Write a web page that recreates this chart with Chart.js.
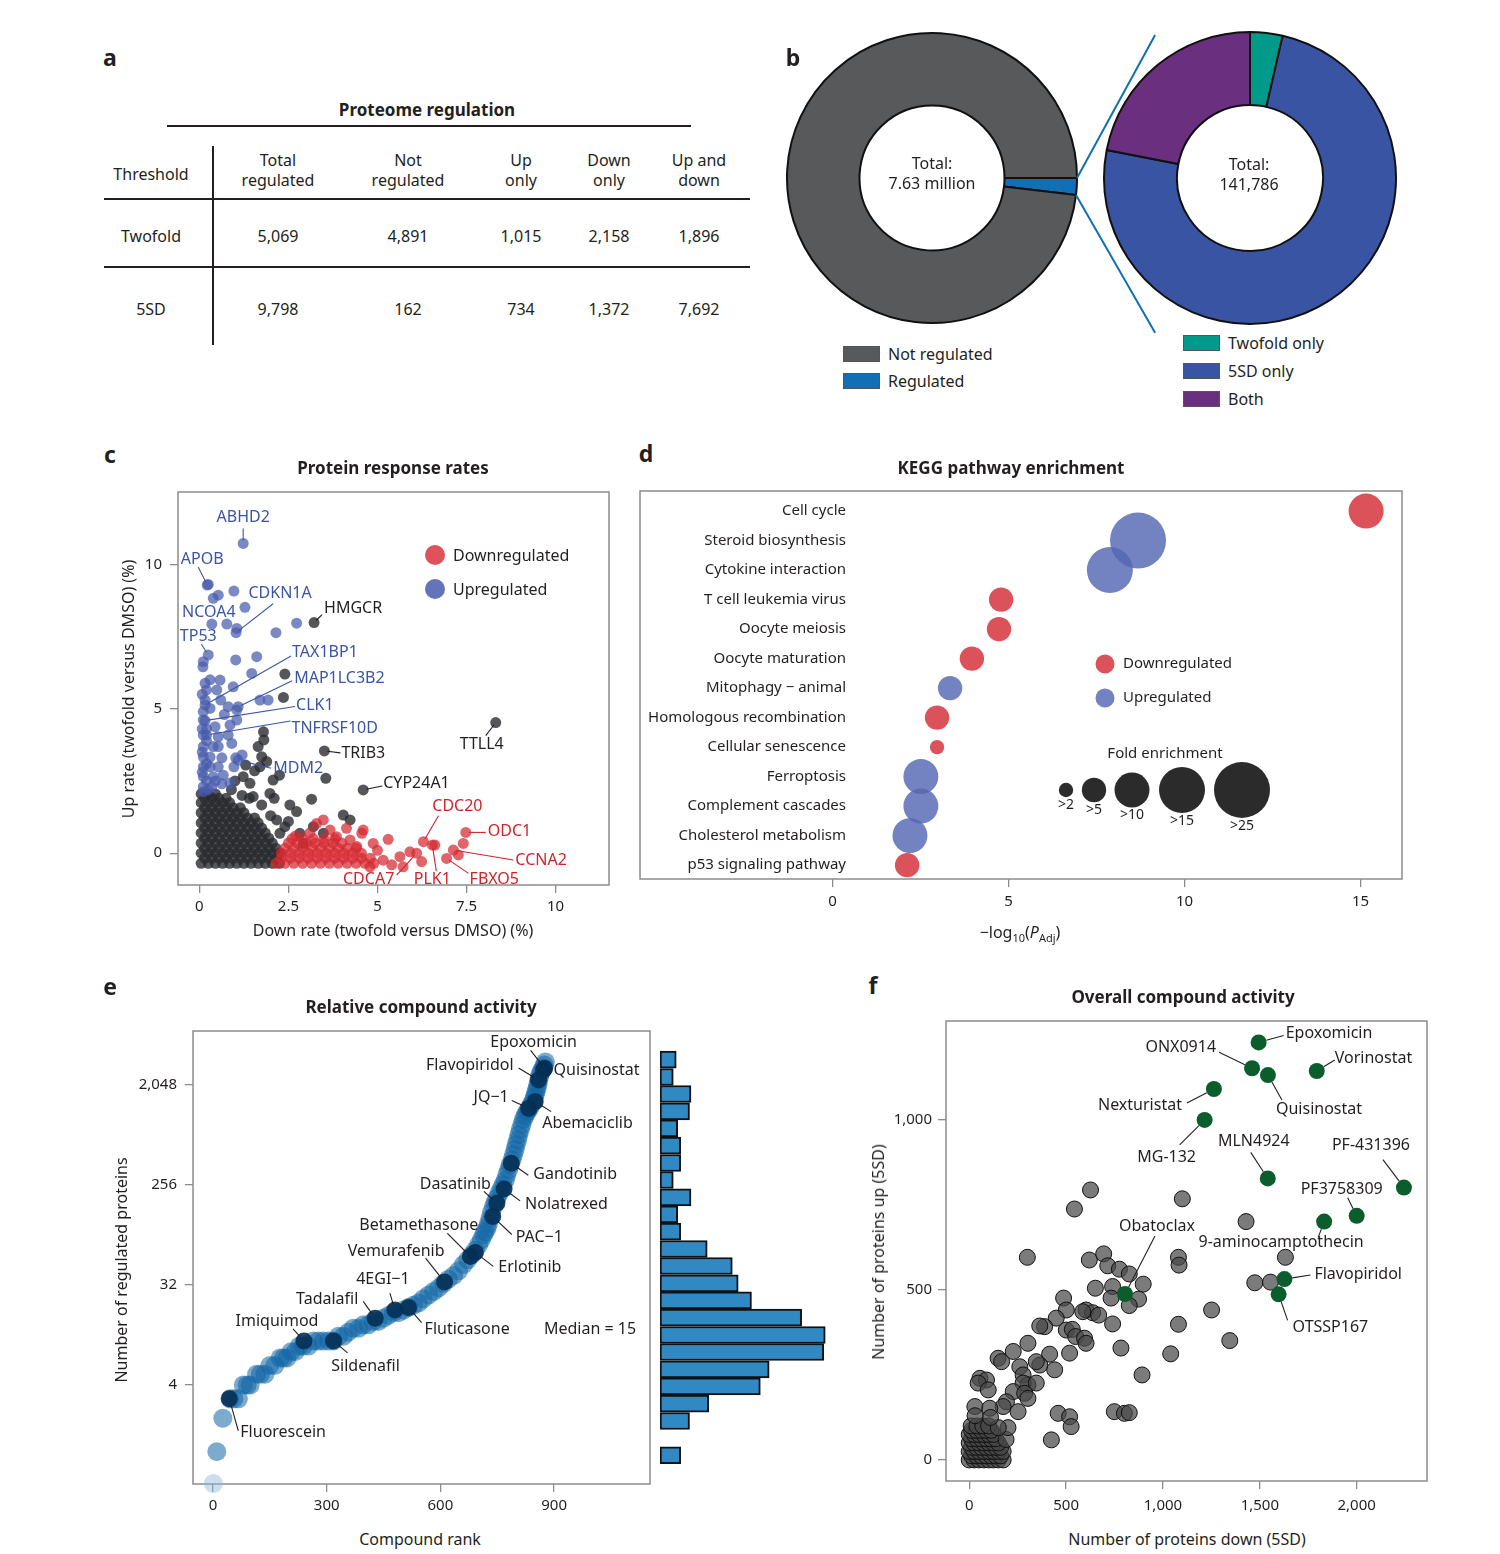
<!DOCTYPE html>
<html>
<head>
<meta charset="utf-8">
<title>Proteome regulation figure</title>
<script src="https://cdn.jsdelivr.net/npm/chart.js@4.4.1/dist/chart.umd.min.js"></script>
<style>
  html, body { margin: 0; padding: 0; background: #fff; }
  body { position: relative; width: 1500px; height: 1554px; overflow: hidden;
         font-family: "Noto Sans", "DejaVu Sans", sans-serif; color: #231f20; }
  canvas { position: absolute; }
  .t { position: absolute; white-space: nowrap; font-size: 16px; line-height: 20px; }
  .letter { font-size: 23px; font-weight: 700; }
  .title { font-size: 17px; font-weight: 700; }
  .rule { position: absolute; background: #231f20; }
  .swatch { position: absolute; width: 35px; height: 14px; border: 1px solid #555; }
  .dot { position: absolute; border-radius: 50%; }
</style>
</head>
<body>
<canvas id="donutAll" width="294" height="294" style="left:785px;top:31px"></canvas>
<canvas id="donutReg" width="296" height="296" style="left:1102px;top:30px"></canvas>
<canvas id="links" width="120" height="330" style="left:1060px;top:20px"></canvas>
<canvas id="chartC" width="520" height="448" style="left:100px;top:474px"></canvas>
<canvas id="chartD" width="782" height="440" style="left:630px;top:481px"></canvas>
<canvas id="chartE" width="550" height="508" style="left:110px;top:1013px"></canvas>
<canvas id="chartHist" width="185" height="500" style="left:655px;top:1021px"></canvas>
<canvas id="chartF" width="577" height="518" style="left:860px;top:1003px"></canvas>

<script>
// ---------------- data ----------------

// a: proteome regulation table
const tableHead = ['Total<br>regulated', 'Not<br>regulated', 'Up<br>only', 'Down<br>only', 'Up and<br>down'];
const tableRows = ['Twofold', '5SD'];
const tableValues = [
    [5069, 4891, 1015, 2158, 1896],
    [9798, 162, 734, 1372, 7692]
];

// b: all measurements / regulated measurements
const allLabels = ['Regulated', 'Not regulated'];
const allValues = [141786, 7488214];
const regLabels = ['Twofold only', '5SD only', 'Both'];
const regValues = [5100, 105600, 31086];

// c: protein response rates (%), [down rate, up rate]
const cUpPts = [
    [0.25,9.3],[0.39,8.82],[0.53,8.93],[0.97,9.07],[1.28,8.51],[0.77,7.93],[1.05,7.78],[2.15,7.63],[2.73,7.96],
    [0.11,6.63],[0.1,6.45],[1.02,6.69],[1.61,6.8],[0.16,5.88],[1.47,6.22],[0.2,5.65],[0.58,5.99],[0.49,5.65],
    [0.95,5.76],[0.11,4.9],[0.3,5.01],[0.81,5.07],[1.05,4.96],[1.7,5.3],[1.93,5.3],[0.11,4.61],[1.05,4.61],
    [0.44,4.38],[0.86,4.44],[0.11,4.09],[0.53,4.03],[0.81,4.09],[0.11,3.69],[0.39,3.69],[0.53,3.69],
    [0.91,3.8],[0.11,3.33],[0.3,3.33],[0.63,3.3],[1.02,3.3],[1.2,3.4],[0.11,2.99],[0.3,2.99],[0.53,2.99],
    [0.97,2.99],[0.11,2.65],[0.39,2.65],[0.67,2.7],[0.86,2.43],[0.11,2.3],[0.35,2.3],[0.63,2.4],[0.11,2.13],
    [0.2,2.5],[0.2,3.1],[0.2,3.9],[0.2,4.3],[0.16,5.3],[0.3,6.0],[0.7,4.8],[0.6,5.3],
    [0.08,2.8],[0.08,3.5],[0.08,4.3],[0.08,5.5],[0.25,2.2],[0.45,2.5]
];
const cDownPts = [
    [2.15,-0.35],[2.4,-0.35],[2.65,-0.35],[2.9,-0.35],[3.15,-0.35],[3.4,-0.35],[3.65,-0.35],[3.9,-0.35],
    [4.15,-0.35],[4.4,-0.35],[4.65,-0.35],[4.9,-0.35],
    [2.3,-0.17],[2.55,-0.17],[2.8,-0.17],[3.05,-0.17],[3.3,-0.17],[3.55,-0.17],[3.8,-0.17],[4.05,-0.17],
    [4.3,-0.17],[4.55,-0.17],[4.8,-0.17],
    [2.3,0],[2.55,0],[2.8,0],[3.05,0],[3.3,0],[3.55,0],[3.8,0],[4.05,0],[4.3,0],[4.55,0],
    [2.4,0.17],[2.65,0.17],[2.9,0.17],[3.15,0.17],[3.4,0.17],[3.65,0.17],[3.9,0.17],[4.15,0.17],[4.4,0.17],
    [2.5,0.35],[2.75,0.35],[3.0,0.35],[3.25,0.35],[3.5,0.35],[3.75,0.35],[4.0,0.35],
    [2.6,0.5],[2.9,0.5],[3.2,0.5],[3.5,0.5],[3.8,0.5],
    [3.67,0.8],[3.85,0.57],[4.13,0.86],[4.23,0.46],[4.56,0.69],[4.42,0.23],[4.88,0.34],[5.3,0.48],
    [5.16,-0.24],[5.63,-0.12],[5.91,0.05],[6.24,-0.29],[6.61,0.28],[7.27,-0.06],[7.41,0.34],[5.72,-0.47],
    [4.79,-0.47],[4.6,0.8],[3.29,1.03],[3.48,1.15],[5.0,0.1],[3.1,0.7],[2.7,0.6],[5.4,-0.4]
];
const cNonePts = [
    [0.05,-0.35],[0.25,-0.35],[0.45,-0.35],[0.65,-0.35],[0.85,-0.35],[1.05,-0.35],[1.25,-0.35],[1.45,-0.35],
    [1.65,-0.35],[1.85,-0.35],[2.05,-0.35],[2.25,-0.35],
    [0.15,-0.17],[0.35,-0.17],[0.55,-0.17],[0.75,-0.17],[0.95,-0.17],[1.15,-0.17],[1.35,-0.17],[1.55,-0.17],
    [1.75,-0.17],[1.95,-0.17],[2.15,-0.17],
    [0.05,0],[0.25,0],[0.45,0],[0.65,0],[0.85,0],[1.05,0],[1.25,0],[1.45,0],[1.65,0],[1.85,0],[2.05,0],[2.25,0],
    [0.15,0.17],[0.35,0.17],[0.55,0.17],[0.75,0.17],[0.95,0.17],[1.15,0.17],[1.35,0.17],[1.55,0.17],
    [1.75,0.17],[1.95,0.17],[2.15,0.17],
    [0.05,0.35],[0.25,0.35],[0.45,0.35],[0.65,0.35],[0.85,0.35],[1.05,0.35],[1.25,0.35],[1.45,0.35],
    [1.65,0.35],[1.85,0.35],[2.05,0.35],
    [0.15,0.52],[0.35,0.52],[0.55,0.52],[0.75,0.52],[0.95,0.52],[1.15,0.52],[1.35,0.52],[1.55,0.52],
    [1.75,0.52],[1.95,0.52],
    [0.05,0.7],[0.25,0.7],[0.45,0.7],[0.65,0.7],[0.85,0.7],[1.05,0.7],[1.25,0.7],[1.45,0.7],[1.65,0.7],[1.85,0.7],
    [0.15,0.87],[0.35,0.87],[0.55,0.87],[0.75,0.87],[0.95,0.87],[1.15,0.87],[1.35,0.87],[1.55,0.87],[1.75,0.87],
    [0.05,1.05],[0.25,1.05],[0.45,1.05],[0.65,1.05],[0.85,1.05],[1.05,1.05],[1.25,1.05],[1.45,1.05],[1.65,1.05],
    [0.15,1.22],[0.35,1.22],[0.55,1.22],[0.75,1.22],[0.95,1.22],[1.15,1.22],[1.35,1.22],[1.55,1.22],
    [0.05,1.4],[0.25,1.4],[0.45,1.4],[0.65,1.4],[0.85,1.4],[1.05,1.4],[1.25,1.4],
    [0.15,1.57],[0.35,1.57],[0.55,1.57],[0.75,1.57],[0.95,1.57],[1.15,1.57],
    [0.05,1.75],[0.25,1.75],[0.45,1.75],[0.65,1.75],[0.85,1.75],
    [0.15,1.9],[0.35,1.9],[0.55,1.9],[0.75,1.9],
    [0.05,2.05],[0.25,2.05],[0.45,2.05],
    [2.4,6.2],[2.36,5.39],[1.8,4.2],[1.81,3.92],[1.65,3.69],[1.75,3.34],[1.7,2.99],[1.89,3.17],[3.55,2.59],
    [3.15,1.87],[4.04,1.32],[4.23,1.15],[3.2,0.92],[3.48,0.69],[2.54,1.67],[2.73,1.44],[1.98,2.07],[2.07,2.53],
    [1.42,2.42],[1.23,2.65],[2.17,1.15],[2.4,0.92],[2.26,0.69],[2.82,0.69],[2.92,0.34],[1.51,1.96],[1.75,1.67],
    [1.0,2.5],[1.2,2.0],[0.9,2.2],[1.4,1.9],[2.0,1.3],[2.5,1.1],[2.1,1.9],[1.55,2.85],[1.3,3.05],[2.25,2.7]
];
const cGenes = ['ABHD2','APOB','CDKN1A','NCOA4','TP53','TAX1BP1','MAP1LC3B2','CLK1','TNFRSF10D','MDM2',
                'HMGCR','TRIB3','TTLL4','CYP24A1','CDC20','ODC1','CCNA2','FBXO5','PLK1','CDCA7'];
const cGeneDown = [1.23,0.22,1.03,0.35,0.25,0.16,1.09,0.16,0.2,1.09,3.22,3.51,8.32,4.6,6.29,7.48,7.13,6.94,6.54,6.1];
const cGeneUp = [10.72,9.28,7.63,7.93,6.86,5.13,5.07,4.59,4.09,3.22,7.98,3.54,4.52,2.19,0.4,0.72,0.11,-0.18,0.28,0.0];
const cGeneGroup = ['up','up','up','up','up','up','up','up','up','up',
                    'none','none','none','none','down','down','down','down','down','down'];
const cTicksX = [0, 2.5, 5, 7.5, 10];
const cTicksY = [0, 5, 10];

// d: KEGG pathway enrichment
const dPathways = ['Cell cycle','Steroid biosynthesis','Cytokine interaction','T cell leukemia virus','Oocyte meiosis',
                   'Oocyte maturation','Mitophagy \u2212 animal','Homologous recombination','Cellular senescence',
                   'Ferroptosis','Complement cascades','Cholesterol metabolism','p53 signaling pathway'];
const dLogP = [15.16, 8.68, 7.88, 4.79, 4.73, 3.96, 3.34, 2.97, 2.97, 2.51, 2.51, 2.2, 2.12];
const dFold = [12, 27, 17, 7, 7, 7, 7, 7, 3, 12, 12, 12, 7];
const dDirection = ['down','up','up','down','down','down','up','down','down','up','up','up','down'];
const dFoldLegend = ['>2', '>5', '>10', '>15', '>25'];
const dFoldLegendValue = [3, 7, 12, 17, 27];
const dTicksX = [0, 5, 10, 15];

// e: relative compound activity (rank vs regulated proteins)
const eRank = [1,10,26,45,55,67,80,90,98,115,125,137,150,163,177,186,195,206,217,228,238,252,265,278,291,305,
               318,331,344,357,370,384,397,410,423,436,450,463,476,490,503,516,529,542,555,569,582,595,608,621,
               635,648,661,672,683,692,701,708,714,718,723,727,731,735,740,744,749,754,760,765,771,775,780,784,
               789,793,797,800,804,807,811,815,819,823,827,831,835,839,844,847,850,852,855,857,859,861,863,867,
               871,874,877];
const eCount = [0,1,2,3,3,3,4,4,4,5,5,5,6,6,7,7,7,8,8,9,9,9,10,10,10,10,
                10,11,11,12,13,13,14,14,15,15,16,17,18,18,19,20,21,22,24,26,28,30,33,36,
                39,43,49,54,60,66,74,82,91,97,104,115,128,145,163,178,194,212,235,258,282,316,352,390,
                432,480,535,595,657,730,812,900,1000,1075,1150,1200,1262,1350,1450,1550,1660,1780,1910,2060,2230,2400,2580,2750,
                2900,3100,3300];
const eHiNames = ['Epoxomicin','Quisinostat','Flavopiridol','JQ\u22121','Abemaciclib','Gandotinib','Nolatrexed',
                  'Dasatinib','PAC\u22121','Erlotinib','Betamethasone','Vemurafenib','Fluticasone','4EGI\u22121',
                  'Tadalafil','Sildenafil','Imiquimod','Fluorescein'];
const eHiRank = [875,872,859,833,850,787,768,749,738,692,679,611,516,480,428,318,240,43];
const eHiCount = [2900,2800,2270,1260,1450,402,236,175,133,63,58,34,20,19,16,10,10,3];
const eTicksX = [0, 300, 600, 900];
const eTicksY = [4, 32, 256, 2048];
// histogram of compounds per log2 bin (top to bottom)
const histBinLog2 = [11.76,11.24,10.73,10.21,9.70,9.18,8.66,8.15,7.63,7.12,6.60,6.08,5.57,5.05,4.54,4.02,
                     3.50,2.99,2.47,1.96,1.44,0.92,0.41,-0.11];
const histCounts = [11,9,21,20,12,14,14,9,21,12,14,32,49,53,62,96,112,111,74,68,33,20,0,14];

// f: overall compound activity, [down, up]
const fPts = [
    [626,794],[543,738],[1100,768],[1429,701],[300,596],[1632,596],[1080,596],[1083,573],[620,588],[694,606],
    [715,571],[775,561],[826,547],[898,517],[651,505],[740,510],[732,476],[874,473],[826,454],[1474,521],
    [1555,523],[487,476],[1251,441],[1345,351],[1080,399],[1040,312],[892,250],[783,329],[740,400],[603,441],
    [637,433],[668,426],[586,436],[501,441],[449,417],[389,392],[364,394],[501,382],[532,384],[549,363],
    [595,358],[603,343],[518,314],[303,343],[415,311],[441,265],[364,279],[346,289],[261,274],[227,319],
    [149,299],[167,289],[278,250],[303,221],[278,226],[346,226],[55,240],[89,235],[46,226],[98,206],
    [227,201],[286,196],[303,181],[192,171],[175,157],[252,142],[29,157],[106,152],[459,137],[518,127],
    [526,98],[424,59],[749,142],[801,137],[826,139],
    [0,0],[25,0],[50,0],[75,0],[100,0],[125,0],[150,0],[175,0],
    [12,12],[37,12],[62,12],[87,12],[112,12],[137,12],[162,12],
    [0,25],[25,25],[50,25],[75,25],[100,25],[125,25],[150,25],[175,25],
    [12,37],[37,37],[62,37],[87,37],[112,37],[137,37],[162,37],
    [0,50],[25,50],[50,50],[75,50],[100,50],[125,50],[150,50],
    [12,62],[37,62],[62,62],[87,62],[112,62],[137,62],
    [0,75],[25,75],[50,75],[75,75],[100,75],[125,75],
    [12,87],[37,87],[62,87],[87,87],[112,87],
    [10,100],[40,100],[70,100],[100,100],[190,60],[200,95],[150,95],[110,125],[30,130]
];
const fHiNames = ['Epoxomicin','ONX0914','Quisinostat','Vorinostat','Nexturistat','MG-132','MLN4924','PF-431396',
                  'PF3758309','9-aminocamptothecin','Obatoclax','Flavopiridol','OTSSP167'];
const fHiDown = [1494,1460,1542,1794,1263,1215,1541,2244,2000,1832,804,1627,1597];
const fHiUp = [1228,1152,1132,1144,1091,1000,828,801,718,701,488,532,487];
const fTicksX = [0, 500, 1000, 1500, 2000];
const fTicksY = [0, 500, 1000];

// ---------------- styling / layout ----------------
const FONT = '"Noto Sans", "DejaVu Sans", sans-serif';
const INK = '#231f20';
const FRAME = '#8c8c8c';
const RED = 'rgba(214,40,48,0.72)';
const BLUE = 'rgba(72,92,172,0.72)';
const GREY = 'rgba(42,44,48,0.8)';
const groupText = { up: '#3a54a6', down: '#d3222a', none: INK };

// label offsets: [dx, dy, align, leader end offset]
const cCallouts = {
    ABHD2: [0,-26,'center',[0,-15]], APOB: [-5,-26,'center',[-9,-18]], CDKN1A: [44,-39,'center',[37,-29]],
    NCOA4: [-3,-12,'center',null], TP53: [-10,-19,'center',[-7,-11]], TAX1BP1: [87,-53,'left',[86,-49]],
    MAP1LC3B2: [56,-28,'left',[54,-26]], CLK1: [91,-15,'left',[90,-14]], TNFRSF10D: [85,-7,'left',[84,-14]],
    MDM2: [35,8,'left',[33,8]], HMGCR: [10,-14,'left',[8,-8]], TRIB3: [17,3,'left',[16,2]],
    TTLL4: [-14,22,'center',[-10,13]], CYP24A1: [20,-6,'left',[19,-4]], CDC20: [34,-35,'center',[15,-26]],
    ODC1: [22,-1,'left',[20,0]], CCNA2: [62,10,'left',[60,10]], FBXO5: [23,21,'left',[22,15]],
    PLK1: [0,34,'center',[4,26]], CDCA7: [-48,26,'center',[-20,22]]
};
const eCallouts = {
    'Epoxomicin': [-11,-26,'center',[-14,-18]], 'Quisinostat': [10,0,'left',null],
    'Flavopiridol': [-25,-15,'right',[-20,-12]], 'JQ\u22121': [-20,-11,'right',[-17,-8]],
    'Abemaciclib': [7,22,'left',[16,10]], 'Gandotinib': [22,11,'left',[17,12]],
    'Nolatrexed': [21,16,'left',[16,12]], 'Dasatinib': [-6,-19,'right',[-13,-12]],
    'PAC\u22121': [23,21,'left',[19,18]], 'Erlotinib': [23,15,'left',[18,14]],
    'Betamethasone': [8,-31,'right',[-23,-23]], 'Vemurafenib': [0,-31,'right',[-19,-24]],
    'Fluticasone': [16,22,'left',[13,15]], '4EGI\u22121': [-12,-31,'center',[-5,-17]],
    'Tadalafil': [-48,-19,'center',[-12,-17]], 'Sildenafil': [32,26,'center',[14,12]],
    'Imiquimod': [-27,-19,'center',[-11,-12]], 'Fluorescein': [11,34,'left',[9,32]]
};
const fCallouts = {
    'Epoxomicin': [27,-9,'left',[25,-7]], 'ONX0914': [-36,-21,'right',[-33,-16]],
    'Quisinostat': [8,34,'left',[14,25]], 'Vorinostat': [18,-13,'left',[18,-11]],
    'Nexturistat': [-32,16,'right',[-27,14]], 'MG-132': [-38,38,'center',[-25,25]],
    'MLN4924': [-14,-37,'center',[-17,-26]], 'PF-431396': [-33,-42,'center',[-21,-28]],
    'PF3758309': [-15,-26,'center',[-9,-18]], '9-aminocamptothecin': [-43,21,'center',[-6,16]],
    'Obatoclax': [32,-68,'center',[30,-58]], 'Flavopiridol': [30,-5,'left',[26,-4]],
    'OTSSP167': [14,33,'left',[9,26]]
};

Chart.defaults.font.family = FONT;
Chart.defaults.font.size = 15;
Chart.defaults.color = INK;
Chart.defaults.animation = false;
Chart.defaults.responsive = false;
Chart.defaults.devicePixelRatio = 1;
Chart.defaults.layout.autoPadding = false;
Chart.defaults.plugins.legend.display = false;
Chart.defaults.plugins.tooltip.enabled = false;

// ---------------- helpers ----------------
function addText(html, x, y, cls, align, rotate) {
    const d = document.createElement('div');
    d.className = 't ' + (cls || '');
    d.innerHTML = html;
    d.style.left = x + 'px';
    d.style.top = y + 'px';
    const tx = align === 'left' ? '0' : align === 'right' ? '-100%' : '-50%';
    d.style.transform = 'translate(' + tx + ',-50%)' + (rotate ? ' rotate(-90deg)' : '');
    if (align === 'center' || !align) d.style.textAlign = 'center';
    document.body.appendChild(d);
    return d;
}
function addRule(x, y, w, h) {
    const d = document.createElement('div');
    d.className = 'rule';
    Object.assign(d.style, { left: x + 'px', top: y + 'px', width: w + 'px', height: h + 'px' });
    document.body.appendChild(d);
}
function addBox(cls, x, y, w, h, color) {
    const d = document.createElement('div');
    d.className = cls;
    Object.assign(d.style, { left: x + 'px', top: y + 'px', width: w + 'px', height: h + 'px', background: color });
    document.body.appendChild(d);
}
const fmt = v => v.toLocaleString('en-US');

function setTicks(values) {
    return scale => { scale.ticks = values.map(v => ({ value: v })); };
}
function fixSize(px) {
    return scale => { if (scale.isHorizontal()) scale.height = px; else scale.width = px; };
}
function axis(extra) {
    return Object.assign({
        type: 'linear',
        grid: { drawOnChartArea: false, drawTicks: true, tickLength: 8, color: FRAME, lineWidth: 1.3 },
        border: { display: false },
        ticks: { padding: 5, color: INK, autoSkip: false, maxRotation: 0 }
    }, extra);
}

// frame around the plotting area
const framePlugin = {
    id: 'frame',
    beforeDatasetsDraw(chart) {
        const { ctx, chartArea: a } = chart;
        ctx.save();
        ctx.strokeStyle = FRAME;
        ctx.lineWidth = 1.5;
        ctx.strokeRect(a.left, a.top, a.right - a.left, a.bottom - a.top);
        ctx.restore();
    }
};

// text labels with leader lines anchored to data points
const calloutPlugin = {
    id: 'callouts',
    afterDatasetsDraw(chart, args, opts) {
        const items = opts.items || [];
        const xs = chart.scales.x, ys = chart.scales.y;
        const ctx = chart.ctx;
        ctx.save();
        ctx.font = opts.font;
        ctx.textBaseline = 'middle';
        items.forEach(it => {
            const px = xs.getPixelForValue(it.x), py = ys.getPixelForValue(it.y);
            ctx.fillStyle = it.color;
            ctx.strokeStyle = it.color;
            ctx.lineWidth = 1.1;
            if (it.lead) {
                const len = Math.hypot(it.lead[0], it.lead[1]);
                const s = Math.min((opts.gap || 0) / len, 0.8);
                ctx.beginPath();
                ctx.moveTo(px + it.lead[0] * s, py + it.lead[1] * s);
                ctx.lineTo(px + it.lead[0], py + it.lead[1]);
                ctx.stroke();
            }
            ctx.textAlign = it.align;
            ctx.fillText(it.text, px + it.dx, py + it.dy);
        });
        ctx.restore();
    }
};

function buildCallouts(names, xs, ys, layout, colors) {
    return names.map((n, i) => {
        const l = layout[n];
        return { text: n, x: xs[i], y: ys[i], dx: l[0], dy: l[1], align: l[2], lead: l[3],
                 color: colors ? colors[i] : INK };
    });
}

// ---------------- panel a: table ----------------
addText('a', 110, 57, 'letter', 'center');
addText('Proteome regulation', 427, 110, 'title', 'center');
addRule(167, 125, 524, 2);
const colX = [278, 408, 521, 609, 699];
addText('Threshold', 151, 174, '', 'center');
tableHead.forEach((h, i) => addText(h, colX[i], 170, '', 'center'));
addRule(104, 198, 646, 2);
addRule(104, 266, 646, 2);
addRule(212, 146, 2, 199);
const rowY = [236, 309];
tableRows.forEach((r, j) => {
    addText(r, 151, rowY[j], '', 'center');
    tableValues[j].forEach((v, i) => addText(fmt(v), colX[i], rowY[j], '', 'center'));
});

// ---------------- panel b: doughnuts ----------------
addText('b', 793, 57, 'letter', 'center');
const allColors = ['#1170b5', '#58595b'];
const regColors = ['#009a8b', '#3a54a4', '#6b2f7f'];

const donutAll = new Chart(document.getElementById('donutAll'), {
    type: 'doughnut',
    data: { labels: allLabels, datasets: [{ data: allValues, backgroundColor: allColors,
            borderColor: '#111', borderWidth: 2 }] },
    options: { cutout: '50%', rotation: 90, layout: { padding: 1 } }
});
const donutReg = new Chart(document.getElementById('donutReg'), {
    type: 'doughnut',
    data: { labels: regLabels, datasets: [{ data: regValues, backgroundColor: regColors,
            borderColor: '#111', borderWidth: 2 }] },
    options: { cutout: '50%', rotation: 0, layout: { padding: 1 } }
});

const allTotal = allValues.reduce((a, b) => a + b, 0);
const regTotal = regValues.reduce((a, b) => a + b, 0);
addText('Total:', 932, 163, '', 'center');
addText((allTotal / 1e6).toFixed(2) + ' million', 932, 183, '', 'center');
addText('Total:', 1249, 164, '', 'center');
addText(fmt(regTotal), 1249, 184, '', 'center');

// zoom lines from the regulated wedge to the second doughnut
(function drawLinks() {
    const ox = 1060, oy = 20;
    const ctx = document.getElementById('links').getContext('2d');
    const wedge = donutAll.getDatasetMeta(0).data[0];
    const wx = 785 + wedge.x, wy = 31 + wedge.y, R = wedge.outerRadius;
    const ring = donutReg.getDatasetMeta(0).data[0];
    const rx = 1102 + ring.x, ry = 30 + ring.y, Rr = ring.outerRadius;
    const p1 = [wx + R * Math.cos(wedge.startAngle), wy + R * Math.sin(wedge.startAngle)];
    const p2 = [wx + R * Math.cos(wedge.endAngle), wy + R * Math.sin(wedge.endAngle)];
    const q1 = [rx - 0.65 * Rr, ry - 0.98 * Rr];
    const q2 = [rx - 0.65 * Rr, ry + 1.06 * Rr];
    ctx.strokeStyle = '#1170b5';
    ctx.lineWidth = 2;
    ctx.beginPath();
    ctx.moveTo(p1[0] - ox, p1[1] - oy); ctx.lineTo(q1[0] - ox, q1[1] - oy);
    ctx.moveTo(p2[0] - ox, p2[1] - oy); ctx.lineTo(q2[0] - ox, q2[1] - oy);
    ctx.stroke();
})();

// legends for b
addBox('swatch', 843, 346, 35, 14, allColors[1]);
addText('Not regulated', 888, 354, '', 'left');
addBox('swatch', 843, 373, 35, 14, allColors[0]);
addText('Regulated', 888, 381, '', 'left');
regLabels.forEach((l, i) => {
    addBox('swatch', 1183, 335 + i * 28, 35, 14, regColors[i]);
    addText(l, 1228, 343 + i * 28, '', 'left');
});

// ---------------- panel c: response rates ----------------
addText('c', 110, 454, 'letter', 'center');
addText('Protein response rates', 393, 468, 'title', 'center');
addText('Up rate (twofold versus DMSO) (%)', 128, 689, '', 'center', true);
addText('Down rate (twofold versus DMSO) (%)', 393, 930, '', 'center');

function genePts(group) {
    return cGenes.map((g, i) => i).filter(i => cGeneGroup[i] === group)
        .map(i => ({ x: cGeneDown[i], y: cGeneUp[i] }));
}
const toXY = arr => arr.map(p => ({ x: p[0], y: p[1] }));
const cPoint = { pointRadius: 5.5, borderWidth: 0, clip: false };

new Chart(document.getElementById('chartC'), {
    type: 'scatter',
    data: { datasets: [
        Object.assign({ data: toXY(cUpPts).concat(genePts('up')), backgroundColor: BLUE }, cPoint),
        Object.assign({ data: toXY(cDownPts).concat(genePts('down')), backgroundColor: RED }, cPoint),
        Object.assign({ data: toXY(cNonePts).concat(genePts('none')), backgroundColor: GREY }, cPoint)
    ] },
    options: {
        layout: { padding: { top: 18, right: 11 } },
        scales: {
            x: axis({ min: -0.6, max: 11.5, afterBuildTicks: setTicks(cTicksX), afterFit: fixSize(37),
                      ticks: { padding: 5, autoSkip: false, maxRotation: 0, callback: v => String(v) } }),
            y: axis({ min: -1.1, max: 12.5, afterBuildTicks: setTicks(cTicksY), afterFit: fixSize(78),
                      ticks: { padding: 8, autoSkip: false, callback: v => String(v) } })
        },
        plugins: {
            callouts: { font: '16px ' + FONT, gap: 3,
                items: buildCallouts(cGenes, cGeneDown, cGeneUp, cCallouts, cGeneGroup.map(g => groupText[g])) }
        }
    },
    plugins: [framePlugin, calloutPlugin]
});
addBox('dot', 425, 545, 20, 20, 'rgba(214,40,48,0.8)');
addText('Downregulated', 453, 555, '', 'left');
addBox('dot', 425, 579, 20, 20, 'rgba(72,92,172,0.85)');
addText('Upregulated', 453, 589, '', 'left');

// ---------------- panel d: KEGG enrichment ----------------
addText('d', 646, 453, 'letter', 'center');
addText('KEGG pathway enrichment', 1011, 468, 'title', 'center');
addText('\u2212log<sub style="font-size:11px">10</sub>(<i>P</i><sub style="font-size:11px">Adj</sub>)', 1020, 935, '', 'center');

const D_RED = 'rgba(214,52,62,0.85)';
const D_BLUE = 'rgba(84,102,178,0.82)';
function foldRadius(f) {
    return f > 25 ? 28 : f > 15 ? 23 : f > 10 ? 17.5 : f > 5 ? 12.2 : 7.2;
}
const keggDecor = {
    id: 'keggDecor',
    afterDatasetsDraw(chart) {
        const { ctx, chartArea: a } = chart;
        const ys = chart.scales.y;
        ctx.save();
        ctx.fillStyle = INK;
        ctx.font = '15px ' + FONT;
        ctx.textAlign = 'right';
        ctx.textBaseline = 'middle';
        dPathways.forEach((p, i) => ctx.fillText(p, a.left + 206, ys.getPixelForValue(i)));
        // colour legend
        const lx = a.left + 465;
        [['Downregulated', D_RED, 183], ['Upregulated', D_BLUE, 217]].forEach(([t, c, y]) => {
            ctx.fillStyle = c;
            ctx.beginPath(); ctx.arc(lx, y, 9.5, 0, Math.PI * 2); ctx.fill();
            ctx.fillStyle = INK;
            ctx.textAlign = 'left';
            ctx.fillText(t, lx + 18, y);
        });
        // size legend
        ctx.textAlign = 'center';
        ctx.fillText('Fold enrichment', a.left + 525, 273);
        const cx = [426, 454, 492, 542, 602];
        ctx.font = '14px ' + FONT;
        dFoldLegendValue.forEach((v, i) => {
            const r = foldRadius(v);
            ctx.fillStyle = '#2b2b2b';
            ctx.beginPath(); ctx.arc(a.left + cx[i], 309, r, 0, Math.PI * 2); ctx.fill();
            ctx.fillStyle = INK;
            ctx.fillText(dFoldLegend[i], a.left + cx[i], 309 + r + 8);
        });
        ctx.restore();
    }
};
new Chart(document.getElementById('chartD'), {
    type: 'bubble',
    data: { datasets: [{
        data: dLogP.map((v, i) => ({ x: v, y: i, r: foldRadius(dFold[i]) })),
        backgroundColor: dDirection.map(d => d === 'up' ? D_BLUE : D_RED),
        borderWidth: 0, clip: false
    }] },
    options: {
        layout: { padding: { left: 10, right: 10, top: 10 } },
        scales: {
            x: axis({ min: -5.47, max: 16.18, afterBuildTicks: setTicks(dTicksX), afterFit: fixSize(42),
                      ticks: { padding: 6, autoSkip: false, maxRotation: 0, callback: v => String(v) } }),
            y: { type: 'linear', reverse: true, min: -0.68, max: 12.47, display: false }
        }
    },
    plugins: [framePlugin, keggDecor]
});

// ---------------- panel e: compound rank ----------------
addText('e', 110, 986, 'letter', 'center');
addText('Relative compound activity', 421, 1007, 'title', 'center');
addText('Number of regulated proteins', 121, 1270, '', 'center', true);
addText('Compound rank', 420, 1539, '', 'center');
addText('Median = 15', 590, 1328, '', 'center');

const E_MIN = 0.51, E_MAX = 6300;
const eFloor = c => Math.max(c, E_MIN * 1.01);
const eItems = buildCallouts(eHiNames, eHiRank, eHiCount, eCallouts);
new Chart(document.getElementById('chartE'), {
    type: 'scatter',
    data: { datasets: [
        { data: eHiRank.map((r, i) => ({ x: r, y: eFloor(eHiCount[i]) })),
          backgroundColor: 'rgba(6,48,84,0.9)', pointRadius: 8.5, borderWidth: 0, clip: false },
        { data: eRank.map((r, i) => ({ x: r, y: eFloor(eCount[i]) })),
          backgroundColor: eCount.map(c => c === 0 ? 'rgba(140,185,220,0.45)' : 'rgba(16,102,166,0.55)'),
          pointRadius: 9.5, borderWidth: 0, clip: false }
    ] },
    options: {
        layout: { padding: { top: 18, right: 10 } },
        scales: {
            x: axis({ min: -52.8, max: 1153, afterBuildTicks: setTicks(eTicksX), afterFit: fixSize(37),
                      ticks: { padding: 5, autoSkip: false, maxRotation: 0, callback: v => String(v) } }),
            y: axis({ type: 'logarithmic', min: E_MIN, max: E_MAX, afterBuildTicks: setTicks(eTicksY),
                      afterFit: fixSize(83), ticks: { padding: 8, autoSkip: false, callback: v => fmt(v) } })
        },
        plugins: { callouts: { font: '16px ' + FONT, gap: 6, items: eItems } }
    },
    plugins: [framePlugin, calloutPlugin]
});

new Chart(document.getElementById('chartHist'), {
    type: 'bar',
    data: { datasets: [{
        data: histBinLog2.map((b, i) => ({ x: histCounts[i], y: b })),
        backgroundColor: '#3189c3', borderColor: '#111', borderWidth: 2, borderSkipped: false,
        barPercentage: 1, categoryPercentage: 1
    }] },
    options: {
        indexAxis: 'y',
        layout: { padding: { left: 5, top: 10, bottom: 37, right: 0 } },
        scales: {
            x: { type: 'linear', min: 0, max: 122, display: false },
            y: { type: 'linear', offset: false, min: Math.log2(E_MIN), max: Math.log2(E_MAX), display: false }
        }
    }
});

// ---------------- panel f: overall activity ----------------
addText('f', 873, 985, 'letter', 'center');
addText('Overall compound activity', 1183, 997, 'title', 'center');
addText('Number of proteins up (5SD)', 878, 1252, '', 'center', true);
addText('Number of proteins down (5SD)', 1187, 1539, '', 'center');

new Chart(document.getElementById('chartF'), {
    type: 'scatter',
    data: { datasets: [
        { data: fHiDown.map((d, i) => ({ x: d, y: fHiUp[i] })), backgroundColor: '#0b5d2b',
          pointRadius: 8, borderWidth: 0, clip: false },
        { data: toXY(fPts), backgroundColor: 'rgba(72,72,72,0.72)', borderColor: '#111',
          borderWidth: 1, pointRadius: 8, clip: false }
    ] },
    options: {
        layout: { padding: { top: 18, right: 10 } },
        scales: {
            x: axis({ min: -120, max: 2363, afterBuildTicks: setTicks(fTicksX), afterFit: fixSize(40),
                      ticks: { padding: 8, autoSkip: false, maxRotation: 0, callback: v => fmt(v) } }),
            y: axis({ min: -62, max: 1291, afterBuildTicks: setTicks(fTicksY), afterFit: fixSize(86),
                      ticks: { padding: 6, autoSkip: false, callback: v => fmt(v) } })
        },
        plugins: { callouts: { font: '16px ' + FONT, gap: 8, items: buildCallouts(fHiNames, fHiDown, fHiUp, fCallouts) } }
    },
    plugins: [framePlugin, calloutPlugin]
});
</script>
</body>
</html>
